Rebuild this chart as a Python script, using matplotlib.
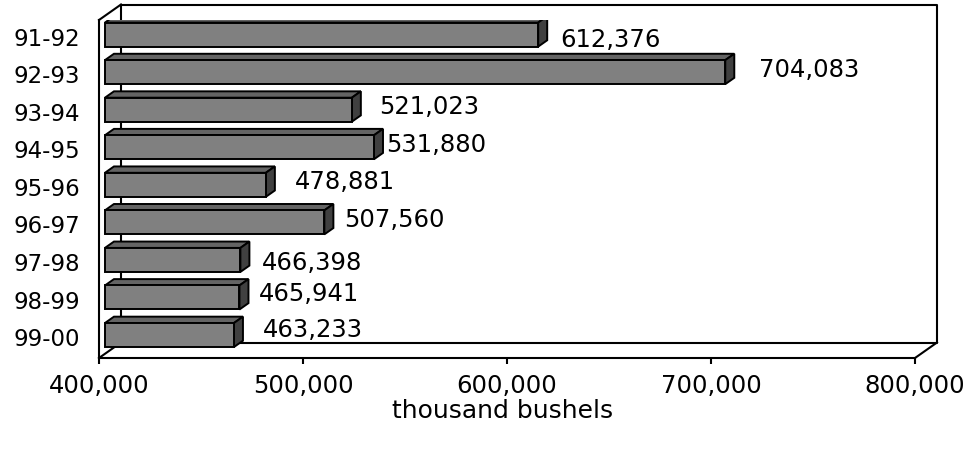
import matplotlib
matplotlib.use("Agg")
import matplotlib.pyplot as plt
from matplotlib.patches import Polygon
from matplotlib.lines import Line2D

# ---- data ----
categories = ["91-92", "92-93", "93-94", "94-95", "95-96", "96-97", "97-98", "98-99", "99-00"]
values = [612376, 704083, 521023, 531880, 478881, 507560, 466398, 465941, 463233]
x_ticks = [400000, 500000, 600000, 700000, 800000]
x_title = "thousand bushels"

# ---- layout / style (pixels) ----
W, H = 972, 455
label_dx_px = [13.4, 25, 18.6, 3.3, 19.7, 10.6, 12.6, 10, 20]
label_dy_px = [-2.7, 5, 5.7, 4.7, 5, 5.2, -1, 5.5, 7.5]

fig = plt.figure(figsize=(W / 100, H / 100), dpi=100)
ax_l, ax_r, ax_t, ax_b = 99, 915, 20, 358
ax = fig.add_axes([ax_l / W, 1 - ax_b / H, (ax_r - ax_l) / W, (ax_b - ax_t) / H])
xmin, xmax = x_ticks[0], x_ticks[-1]
n = len(categories)
ax.set_xlim(xmin, xmax)
ax.set_ylim(0, n)

px_x = (xmax - xmin) / (ax_r - ax_l)   # data per pixel in x
px_y = n / (ax_b - ax_t)               # data per pixel in y
DX = 22 * px_x
DY = 15.5 * px_y

lw = 1.5
line_kw = dict(color="black", lw=lw, clip_on=False, zorder=1, solid_capstyle="projecting")

# back wall and floor
bx = [xmin + DX, xmax + DX, xmax + DX, xmin + DX, xmin + DX]
by = [n + DY, n + DY, DY, DY, n + DY]
ax.add_line(Line2D(bx, by, **line_kw))
for (x0, y0) in [(xmin, n), (xmin, 0), (xmax, 0)]:
    ax.add_line(Line2D([x0, x0 + DX], [y0, y0 + DY], **line_kw))

# bars
a, b = 0.27, 0.68
bh = 0.64
front_c = "#808080"
top_c = "#646464"
side_c = "#404040"
for idx, (cat, v) in enumerate(zip(categories, values)):
    c = n - idx - 0.5
    y0, y1 = c - bh / 2, c + bh / 2
    ax_, ay_ = a * DX, a * DY
    bx_, by_ = b * DX, b * DY
    front = Polygon([(xmin + ax_, y0 + ay_), (v + ax_, y0 + ay_), (v + ax_, y1 + ay_), (xmin + ax_, y1 + ay_)],
                    closed=True, fc=front_c, ec="black", lw=1.4, zorder=3, joinstyle="miter")
    top = Polygon([(xmin + ax_, y1 + ay_), (v + ax_, y1 + ay_), (v + bx_, y1 + by_), (xmin + bx_, y1 + by_)],
                  closed=True, fc=top_c, ec="black", lw=1.4, zorder=3, joinstyle="miter")
    side = Polygon([(v + ax_, y0 + ay_), (v + ax_, y1 + ay_), (v + bx_, y1 + by_), (v + bx_, y0 + by_)],
                   closed=True, fc=side_c, ec="black", lw=1.4, zorder=3, joinstyle="miter")
    for p in (top, side, front):
        ax.add_patch(p)
    ax.annotate(f"{v:,}", xy=(v + bx_, c + ay_), xytext=(label_dx_px[idx] * 0.72, label_dy_px[idx] * 0.72),
                textcoords="offset points", ha="left", va="center_baseline", fontsize=17.5,
                color="black", zorder=5, annotation_clip=False)

# spines
for s in ("top", "right"):
    ax.spines[s].set_visible(False)
for s in ("left", "bottom"):
    ax.spines[s].set_linewidth(lw)
    ax.spines[s].set_zorder(2)
ax.patch.set_visible(False)

ax.set_xticks(x_ticks)
ax.set_xticklabels([f"{t:,}" for t in x_ticks], fontsize=17.5)
ax.tick_params(axis="x", direction="out", length=4.5, width=lw, pad=7)

ypos = [n - i - 0.5 + 0.5 * a * DY for i in range(n)]
ax.set_yticks(ypos)
ax.set_yticklabels(categories, fontsize=16.5, va="center_baseline")
ax.tick_params(axis="y", length=0, pad=13.5)

fig.text(503 / W, 1 - 411 / H, x_title, ha="center", va="center", fontsize=18)

fig.savefig("out.png", dpi=100)
